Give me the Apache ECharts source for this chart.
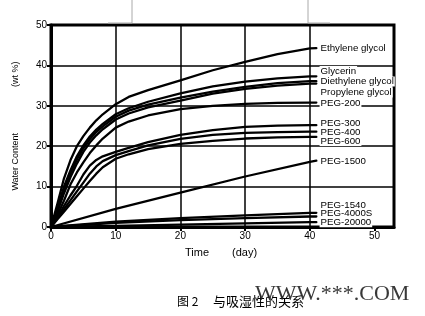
<!DOCTYPE html>
<html><head><meta charset="utf-8">
<script src="https://cdn.jsdelivr.net/npm/echarts@6/dist/echarts.min.js"></script>
<style>html,body{margin:0;padding:0;background:#fff}#c{width:425px;height:316px}</style>
</head><body><div id="c"></div>
<script>
// Time (day) samples
var daysFast = [0, 1, 2, 3, 4, 5, 6, 7, 8, 10, 12, 15, 20, 25, 30, 35, 40, 41];
var daysSlow = [0, 10, 20, 30, 40, 41];

// Water content (wt %)
var ethyleneGlycol  = [0, 5.8, 12, 16.5, 20, 22.5, 24.6, 26.4, 27.9, 30.4, 32.2, 33.9, 36.3, 38.8, 40.9, 42.8, 44.2, 44.3];
var glycerin        = [0, 4.5, 10, 14, 17.5, 20.2, 22.4, 24.1, 25.5, 27.9, 29.4, 31, 33.1, 34.8, 36, 36.8, 37.3, 37.3];
var diethyleneGlycol= [0, 4.2, 9.2, 13.3, 16.7, 19.5, 21.7, 23.5, 24.9, 27.3, 28.8, 30.3, 32, 33.5, 34.7, 35.6, 36.1, 36.1];
var propyleneGlycol = [0, 3.8, 8.3, 12.3, 15.7, 18.6, 20.9, 22.7, 24.2, 26.6, 28.1, 29.6, 31.3, 33, 34.2, 35, 35.5, 35.5];
var peg200          = [0, 3, 6.5, 10.5, 13.5, 16, 18.3, 20.2, 21.9, 24.6, 26.1, 27.6, 29.2, 30, 30.5, 30.7, 30.8, 30.8];
var peg300          = [0, 2.5, 5.2, 7.8, 10.2, 13, 15.2, 16.6, 17.5, 18.6, 19.6, 21, 22.8, 24, 24.8, 25.1, 25.2, 25.2];
var peg400          = [0, 2.2, 4.4, 6.6, 8.8, 11, 13.2, 15, 16.3, 17.8, 18.8, 20.2, 21.8, 22.8, 23.3, 23.5, 23.6, 23.6];
var peg600          = [0, 1.9, 3.8, 5.7, 7.6, 9.5, 11.4, 13.2, 14.8, 16.9, 18, 19.3, 20.6, 21.3, 21.9, 22.2, 22.3, 22.3];
var peg1500         = [0, 4.5, 8.5, 12.5, 16.1, 16.4];
var peg1540         = [0, 1.3, 2.2, 2.9, 3.5, 3.5];
var peg4000S        = [0, 1.0, 1.7, 2.2, 2.6, 2.6];
var peg20000        = [0, 0.3, 0.6, 0.9, 1.2, 1.2];

var seriesNames = ['Ethylene glycol','Glycerin','Diethylene glycol','Propylene glycol','PEG-200','PEG-300','PEG-400','PEG-600','PEG-1500','PEG-1540','PEG-4000S','PEG-20000'];
var seriesValues = [ethyleneGlycol, glycerin, diethyleneGlycol, propyleneGlycol, peg200, peg300, peg400, peg600, peg1500, peg1540, peg4000S, peg20000];
var seriesDays = [daysFast, daysFast, daysFast, daysFast, daysFast, daysFast, daysFast, daysFast, daysSlow, daysSlow, daysSlow, daysSlow];
// label anchor heights (wt %) for the right-side names
var labelY = [44.3, 38.6, 36.0, 33.3, 30.7, 25.7, 23.5, 21.3, 16.3, 5.4, 3.4, 1.2];
var xTicks = [0, 10, 20, 30, 40, 50];
var yTicks = [0, 10, 20, 30, 40, 50];
var vGrid = [10, 20, 30, 40];

var chart = echarts.init(document.getElementById('c'));
var font = 'Liberation Sans, Arial, sans-serif';
var series = seriesNames.map(function (n, i) {
  var s = {
    name: n, type: 'line', smooth: false, symbol: 'none',
    lineStyle: { color: '#000', width: 2.3, join: 'round', cap: 'round' },
    data: seriesValues[i].map(function (v, k) { return [seriesDays[i][k], v]; }),
    z: 3, silent: true
  };
  if (i === 0) {
    s.markLine = {
      silent: true, symbol: 'none', label: { show: false },
      lineStyle: { color: '#000', width: 1.5, type: 'solid' },
      data: vGrid.map(function (v) { return { xAxis: v }; }),
      z: 1
    };
  }
  return s;
});

chart.setOption({
  animation: false,
  backgroundColor: '#fff',
  grid: { left: 51, right: 31, top: 25, bottom: 89, show: true, borderColor: '#000', borderWidth: 3 },
  xAxis: {
    type: 'value', min: 0, max: 53, interval: 10,
    axisLine: { lineStyle: { color: '#000', width: 3 } },
    axisTick: { show: true, length: 4, lineStyle: { color: '#000', width: 2 } },
    splitLine: { show: false },
    axisLabel: { color: '#000', fontSize: 10, fontFamily: font, margin: 4, showMaxLabel: false,
      formatter: function (v) { return xTicks.indexOf(v) >= 0 ? String(v) : ''; } }
  },
  yAxis: {
    type: 'value', min: 0, max: 50, interval: 10,
    axisLine: { lineStyle: { color: '#000', width: 3 } },
    axisTick: { show: true, length: 4, lineStyle: { color: '#000', width: 2 } },
    splitLine: { show: true, lineStyle: { color: '#000', width: 1.5 } },
    axisLabel: { color: '#000', fontSize: 10, fontFamily: font, margin: 4,
      formatter: function (v) { return yTicks.indexOf(v) >= 0 ? String(v) : ''; } },
    name: '{a|Water Content}{s|}{a|(wt %)}', nameLocation: 'middle', nameGap: 29, nameRotate: 90,
    nameTextStyle: { rich: { a: { fontSize: 9, fontFamily: font, color: '#000' }, s: { width: 46 } } }
  },
  series: series
});

var g = [];
seriesNames.forEach(function (n, i) {
  var p = chart.convertToPixel({ gridIndex: 0 }, [41.5, labelY[i]]);
  g.push({ type: 'text', x: p[0], y: p[1], z: 10,
    style: { text: n, fontSize: 9.7, fontFamily: font, fill: '#000', verticalAlign: 'middle', align: 'left',
      backgroundColor: '#fff', padding: [0, 1, 0, 1] } });
});
// axis names
g.push({ type: 'text', left: 185, top: 247, style: { text: 'Time', fontSize: 11, fontFamily: font, fill: '#000' } });
g.push({ type: 'text', left: 232, top: 247, style: { text: '(day)', fontSize: 11, fontFamily: font, fill: '#000' } });
// caption
g.push({ type: 'text', left: 177, top: 295, style: { text: '图 2', fontSize: 12, fontFamily: 'Noto Sans CJK SC', fill: '#000' } });
g.push({ type: 'text', left: 213, top: 295, style: { text: '与吸湿性的关系', fontSize: 13, fontFamily: 'Noto Sans CJK SC', fill: '#000' } });
g.push({ type: 'text', left: 255, top: 283, z: 20, style: { text: 'WWW.***.COM', fontSize: 22, fontFamily: 'Liberation Serif, Times New Roman, serif', fill: '#222', opacity: 0.9 } });
// scan artefacts at top
g.push({ type: 'polyline', shape: { points: [[132, 0], [132, 23], [108, 23]] }, style: { stroke: '#aaa', lineWidth: 1, fill: null } });
g.push({ type: 'polyline', shape: { points: [[308, 0], [308, 23], [330, 23]] }, style: { stroke: '#aaa', lineWidth: 1, fill: null } });
chart.setOption({ graphic: g });
</script></body></html>
